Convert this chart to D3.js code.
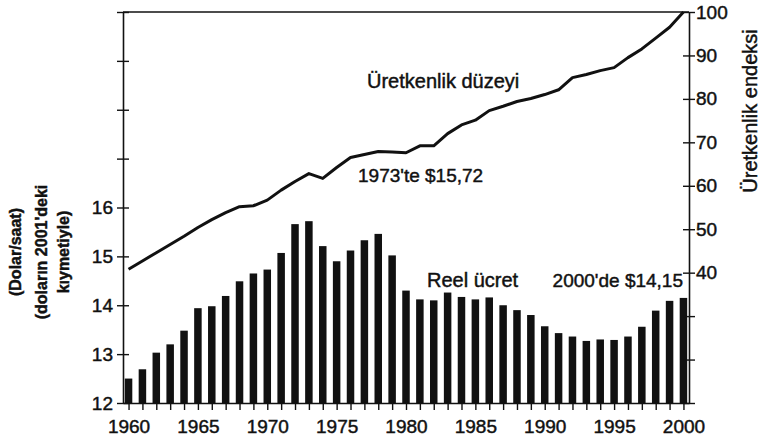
<!DOCTYPE html>
<html>
<head>
<meta charset="utf-8">
<script src="https://cdn.jsdelivr.net/npm/d3@7"></script>
<style>
  body { margin: 0; background: #fff; }
  svg { display: block; font-family: "Liberation Sans", Arial, Helvetica, sans-serif; }
  text { stroke: #111; stroke-width: 0.45px; }
</style>
</head>
<body>
<div id="chart"></div>
<script>
// Reel ücret (bars, left axis) vs. Üretkenlik endeksi (line, right axis), 1960-2000
const years = d3.range(1960, 2001);

const realWage = [
  12.50, 12.69, 13.03, 13.20, 13.48, 13.94, 13.98, 14.19, 14.49, 14.65,
  14.73, 15.07, 15.66, 15.72, 15.21, 14.90, 15.12, 15.33, 15.46, 15.02,
  14.30, 14.12, 14.10, 14.26, 14.17, 14.12, 14.16, 14.00, 13.90, 13.80,
  13.57, 13.43, 13.36, 13.27, 13.30, 13.29, 13.36, 13.56, 13.89, 14.09,
  14.15
];

const productivity = [
  40.8, 42.7, 44.6, 46.5, 48.4, 50.4, 52.2, 53.8, 55.2, 55.4,
  56.7, 59.0, 61.0, 62.8, 61.7, 64.2, 66.5, 67.2, 67.9, 67.8,
  67.6, 69.2, 69.2, 72.0, 74.0, 75.1, 77.3, 78.3, 79.4, 80.1,
  81.0, 82.1, 84.9, 85.6, 86.5, 87.2, 89.5, 91.5, 94.0, 96.5,
  100.0
];

const leftTicks = d3.range(12, 21);          // 12..20
const leftLabels = [12, 13, 14, 15, 16];
const rightTicks = d3.range(10, 101, 10);    // 10..100
const rightLabels = [40, 50, 60, 70, 80, 90, 100];
const yearLabels = [1960, 1965, 1970, 1975, 1980, 1985, 1990, 1995, 2000];

const W = 768, H = 440;
const plotLeft = 123, plotRight = 689, plotTop = 12, plotBottom = 403;
const ink = "#111";

const x = d3.scaleLinear().domain([1959.6, 2000.4]).range([plotLeft, plotRight]);
const yL = d3.scaleLinear().domain([12, 20]).range([plotBottom, plotTop]);
const yR = d3.scaleLinear().domain([10, 100]).range([plotBottom, plotTop]);

const svg = d3.select("#chart").append("svg")
  .attr("width", W)
  .attr("height", H);

// bars
const barW = 7.5;
svg.append("g")
  .selectAll("rect")
  .data(years)
  .join("rect")
  .attr("x", (d) => x(d) - barW / 2)
  .attr("y", (d, i) => yL(realWage[i]))
  .attr("width", barW)
  .attr("height", (d, i) => yL(12) - yL(realWage[i]))
  .attr("fill", ink);

// productivity line
const line = d3.line()
  .x((d) => x(d))
  .y((d, i) => yR(productivity[i]));

svg.append("path")
  .datum(years)
  .attr("d", line)
  .attr("fill", "none")
  .attr("stroke", ink)
  .attr("stroke-width", 3)
  .attr("stroke-linejoin", "round");

// top frame line
svg.append("line")
  .attr("x1", plotLeft).attr("x2", plotRight)
  .attr("y1", plotTop).attr("y2", plotTop)
  .attr("stroke", ink).attr("stroke-width", 1.6);

function styleAxis(g) {
  g.select(".domain").attr("stroke", ink).attr("stroke-width", 1.6);
  g.selectAll(".tick line").attr("stroke", ink).attr("stroke-width", 1.4);
  g.selectAll(".tick text")
    .attr("fill", ink)
    .style("font-size", "19px")
    .style("font-family", "'Liberation Sans', Arial, sans-serif");
}

// bottom axis
const xAxis = svg.append("g")
  .attr("transform", `translate(0,${plotBottom})`)
  .call(d3.axisBottom(x)
    .tickValues(years)
    .tickSizeOuter(0)
    .tickFormat((d) => yearLabels.includes(d) ? d : ""))
  .call(styleAxis);
xAxis.selectAll(".tick line").attr("y1", -5).attr("y2", 7);
xAxis.selectAll(".tick text").attr("y", 30).attr("dy", 0);

// left axis
const yAxisL = svg.append("g")
  .attr("transform", `translate(${plotLeft},0)`)
  .call(d3.axisLeft(yL)
    .tickValues(leftTicks)
    .tickSizeOuter(0)
    .tickFormat((d) => leftLabels.includes(d) ? d : ""))
  .call(styleAxis);
yAxisL.selectAll(".tick line").attr("x1", -6).attr("x2", 6);
yAxisL.selectAll(".tick text").attr("x", -10);

// right axis
const yAxisR = svg.append("g")
  .attr("transform", `translate(${plotRight},0)`)
  .call(d3.axisRight(yR)
    .tickValues(rightTicks)
    .tickSizeOuter(0)
    .tickFormat((d) => rightLabels.includes(d) ? d : ""))
  .call(styleAxis);
yAxisR.selectAll(".tick line").attr("x1", -6).attr("x2", 6);
yAxisR.selectAll(".tick text").attr("x", 7);

// annotations
const label = (txt, tx, ty, size, anchor) => svg.append("text")
  .attr("x", tx).attr("y", ty)
  .attr("text-anchor", anchor || "start")
  .attr("fill", ink)
  .style("font-size", size + "px")
  .text(txt);

label("Üretkenlik düzeyi", 367, 88, 20);
label("1973'te $15,72", 358, 182, 19);
label("Reel ücret", 427, 287, 20);
label("2000'de $14,15", 683, 287, 19, "end");

// right axis title
svg.append("text")
  .attr("transform", "translate(757,111) rotate(-90)")
  .attr("text-anchor", "middle")
  .attr("fill", ink)
  .style("font-size", "20px")
  .text("Üretkenlik endeksi");

// left axis title, three lines
const leftTitle = ["(Dolar/saat)", "(doların 2001'deki", "kıymetiyle)"];
const leftTitleX = [21, 47, 69];
leftTitle.forEach((t, i) => {
  svg.append("text")
    .attr("transform", `translate(${leftTitleX[i]},252) rotate(-90)`)
    .attr("text-anchor", "middle")
    .attr("fill", ink)
    .style("font-size", "16px")
    .style("font-weight", "bold")
    .text(t);
});
</script>
</body>
</html>
